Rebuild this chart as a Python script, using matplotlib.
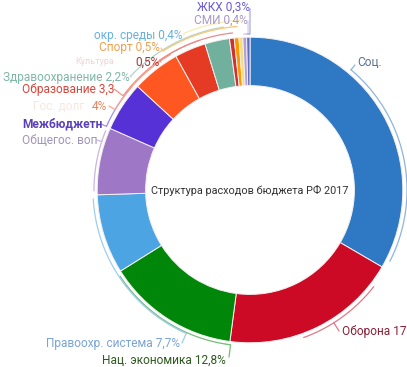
import numpy as np
import matplotlib
matplotlib.use("Agg")
import matplotlib.pyplot as plt

categories = ["Соц. политика", "Оборона", "Нац. экономика", "Правоохр. система",
              "Общегос. вопросы", "Межбюджетные", "Гос. долг", "Образование",
              "Здравоохранение", "Культура", "Спорт", "Охрана окр. среды", "СМИ", "ЖКХ"]
shares = [33.4, 18.7, 14.0, 8.4, 7.1, 5.25, 5.1, 3.3, 2.6, 0.5, 0.5, 0.4, 0.4, 0.35]
label_main = ["Соц.", "Оборона 17", "Нац. экономика 12,8%", "Правоохр. система 7,7%",
              "Общегос. воп", "Межбюджетн", "4%", "Образование 3,3",
              "Здравоохранение 2,2%", "0,5%", "Спорт 0,5%", "окр. среды 0,4%",
              "СМИ 0,4%", "ЖКХ 0,3%"]
label_hidden = ["", "", "", "", "", "", "Гос. долг", "", "", "Культура", "", "", "", ""]
title = "Структура расходов бюджета РФ 2017"

seg_colors = ["#2f78c4", "#cc0a25", "#00870a", "#4da4e3", "#9e78c6", "#5631d6",
              "#ff5722", "#e53a24", "#72b09e", "#d32f2f", "#ff9800", "#f3df7a",
              "#b39ddb", "#5c6bc0"]
text_colors = ["#5a7090", "#8a2035", "#2d5a1e", "#79a3d8", "#a095bb", "#5b3fb8",
               "#e8845a", "#d9453a", "#7fb7a6", "#b03030", "#f0a050", "#66b0e0",
               "#a898c8", "#6a5ad8"]

# layout (pixel coords, y measured from top of the image)
W, H = 407, 367
cx, cy_img = 250, 190
r_out, r_in = 152.8, 104.4
anchors = [(355, 65), (339, 331), (229, 357), (182, 343), (97, 140), (101, 124),
           (109, 106), (114, 89), (131, 77), (161, 62), (161, 48), (184, 35),
           (248, 21), (250, 9)]
text_pos = [(357, 63, "left"), (342, 331, "left"), (226, 360, "right"),
            (180, 343, "right"), (22, 140, "left"), (22, 124, "left"),
            (107, 107, "right"), (22, 90, "left"), (130, 77, "right"),
            (160, 62, "right"), (160, 48, "right"), (183, 35, "right"),
            (248, 20, "right"), (250, 7, "right")]
hidden_right = {6: 84, 9: 114}
hidden_size = {6: 8.6, 9: 6.5}
lead_r = [157, 157, 156, 157, 156, 157, 157, 158, 165, 158, 164, 170, 156, 156]
bracket_override = {0: (40, 117), 1: (128, 160)}

plt.rcParams['font.family'] = ['Roboto', 'DejaVu Sans']
fig = plt.figure(figsize=(W / 100, H / 100), dpi=100)
ax = fig.add_axes([0, 0, 1, 1])
cy = H - cy_img

ax.pie(shares, colors=seg_colors, startangle=90, counterclock=False,
       radius=r_out, center=(cx, cy), frame=True,
       wedgeprops=dict(width=r_out - r_in, edgecolor="#f4f0f0", linewidth=0.7))
ax.set_xlim(0, W)
ax.set_ylim(0, H)
ax.set_aspect("equal")
ax.axis("off")

def lighten(c, f):
    rgb = np.array(matplotlib.colors.to_rgb(c))
    return tuple(rgb + (1 - rgb) * f)

def pol(r, t):
    a = np.deg2rad(90 - t)
    return cx + r * np.cos(a), cy + r * np.sin(a)

total = sum(shares)
cum = np.concatenate([[0], np.cumsum(shares)]) / total * 360
for i in range(len(shares)):
    t0, t1 = cum[i], cum[i + 1]
    span = t1 - t0
    ins = min(1.5, span * 0.2)
    lo, hi = bracket_override.get(i, (t0 + ins, t1 - ins))
    mid = (t0 + t1) / 2
    ax_, ay_ = anchors[i]
    ay_ = H - ay_
    la = (90 - np.degrees(np.arctan2(ay_ - cy, ax_ - cx))) % 360
    if la - mid > 180:
        la -= 360
    if mid - la > 180:
        la += 360
    R = lead_r[i]
    col = lighten(seg_colors[i], 0.45)
    ts = np.linspace(lo, hi, 40)
    xs, ys = pol(R, ts)
    ax.plot(xs, ys, color=col, lw=0.9, solid_capstyle="round")
    if la > hi:
        tt = np.linspace(la, hi, 30)
    elif la < lo:
        tt = np.linspace(la, lo, 30)
    else:
        tt = np.array([la])
    px, py = pol(R, tt)
    ax.plot(np.concatenate([[ax_], px]), np.concatenate([[ay_], py]),
            color=col, lw=0.9, solid_capstyle="round")
    tx, ty, ha = text_pos[i]
    weight = "bold" if i == 5 else "normal"
    ax.text(tx, H - ty, label_main[i], ha=ha, va="center", fontsize=8.6,
            color=text_colors[i], fontweight=weight)
    if label_hidden[i]:
        ax.text(hidden_right[i], H - ty, label_hidden[i], ha="right",
                va="center", fontsize=hidden_size[i], color=lighten(text_colors[i], 0.8))

ax.text(cx, cy, title, ha="center", va="center", fontsize=7.8, color="#333333")

fig.savefig("out.png", dpi=100)
